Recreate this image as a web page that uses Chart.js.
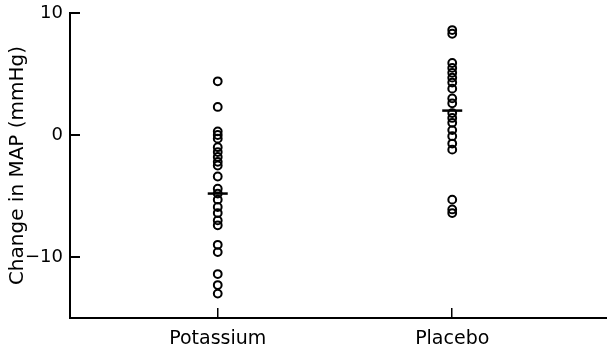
<!DOCTYPE html>
<html>
<head>
<meta charset="utf-8">
<script src="https://cdn.jsdelivr.net/npm/chart.js@4.4.1/dist/chart.umd.min.js"></script>
<style>
  html, body { margin: 0; padding: 0; background: #fff; overflow: hidden; }
  #wrap { position: relative; width: 607px; height: 352px; }
  #chart { display: block; }
</style>
</head>
<body>
<div id="wrap"><canvas id="chart"></canvas></div>
<script>
var groups = ['Potassium', 'Placebo'];
var potassium = [4.4, 2.3, 0.3, 0, -0.3, -1.0, -1.4, -1.8, -2.2, -2.5, -3.4, -4.4, -4.8, -5.3, -5.9, -6.4, -7.0, -7.4, -9.0, -9.6, -11.4, -12.3, -13.0];
var placebo = [8.6, 8.3, 5.9, 5.5, 5.1, 4.7, 4.3, 3.8, 3.0, 2.6, 1.8, 1.4, 1.0, 0.4, -0.1, -0.7, -1.2, -5.3, -6.1, -6.4];
var means = [-4.8, 2.0];
var yTicks = [-10, 0, 10];

function toPoints(values, x) {
    var pts = [];
    for (var i = 0; i < values.length; i++) {
        pts.push({ x: x, y: values[i] });
    }
    return pts;
}

var meanPoints = [];
for (var i = 0; i < means.length; i++) {
    meanPoints.push({ x: i + 1, y: means[i] });
}

var font = 'DejaVu Sans';

new Chart(document.getElementById('chart'), {
    type: 'scatter',
    data: {
        datasets: [{
            data: toPoints(potassium, 1).concat(toPoints(placebo, 2)),
            pointStyle: 'circle',
            pointRadius: 3.9,
            pointBorderWidth: 2,
            pointBorderColor: '#000',
            pointBackgroundColor: 'rgba(0,0,0,0)'
        }, {
            data: meanPoints,
            pointStyle: 'line',
            pointRadius: 10,
            pointBorderWidth: 2.5,
            pointBorderColor: '#000'
        }]
    },
    options: {
        responsive: true,
        maintainAspectRatio: false,
        animation: false,
        // mean dashes are wide; don't let them push the plot edges in
        layout: { autoPadding: false, padding: { top: 13, right: 0, left: 0, bottom: 0 } },
        plugins: {
            legend: { display: false },
            tooltip: { enabled: false }
        },
        scales: {
            x: {
                type: 'linear',
                min: 0.37,
                max: 2.66,
                afterBuildTicks: function(scale) {
                    scale.ticks = [{ value: 1 }, { value: 2 }];
                },
                afterFit: function(scale) {
                    scale.height = 34;
                    scale.paddingLeft = 0;
                    scale.paddingRight = 0;
                },
                border: { display: true, color: '#000', width: 2 },
                grid: {
                    drawOnChartArea: false,
                    drawTicks: true,
                    tickLength: -10,
                    color: '#000',
                    lineWidth: 1.5
                },
                ticks: {
                    color: '#000',
                    font: { family: font, size: 19 },
                    padding: 20,
                    maxRotation: 0,
                    callback: function(v) { return groups[v - 1]; }
                }
            },
            y: {
                min: -15,
                max: 10,
                afterBuildTicks: function(scale) {
                    scale.ticks = yTicks.map(function(v) { return { value: v }; });
                },
                afterFit: function(scale) {
                    scale.width = 70;
                    scale.paddingTop = 0;
                    scale.paddingBottom = 0;
                },
                border: { display: true, color: '#000', width: 2 },
                grid: {
                    drawOnChartArea: false,
                    drawTicks: true,
                    tickLength: -10,
                    color: '#000',
                    lineWidth: 2
                },
                ticks: {
                    color: '#000',
                    font: { family: font, size: 18 },
                    padding: 17,
                    callback: function(v) { return v < 0 ? '\u2212' + Math.abs(v) : v; }
                },
                title: {
                    display: true,
                    text: 'Change in MAP (mmHg)',
                    color: '#000',
                    font: { family: font, size: 20 },
                    padding: { top: 6, bottom: 0 }
                }
            }
        }
    }
});
</script>
</body>
</html>
